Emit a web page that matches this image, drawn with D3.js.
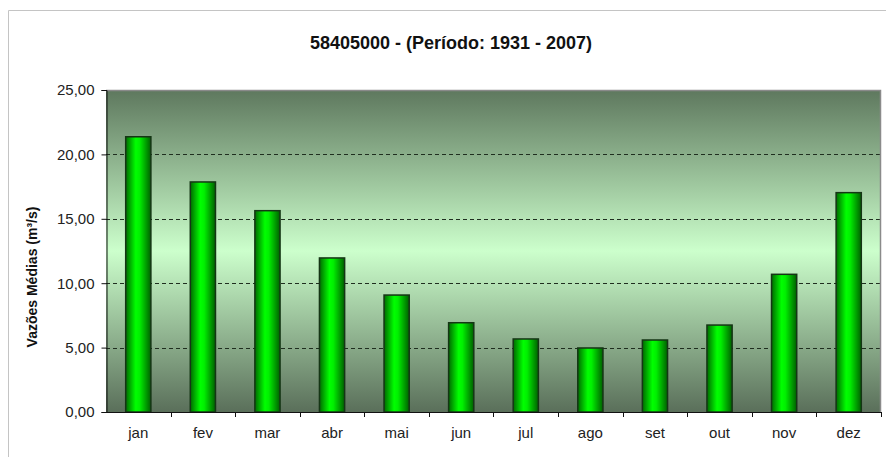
<!DOCTYPE html>
<html>
	<head>
		<meta charset="utf-8">
		<title>Vazões Médias</title>
		<style>
			body{margin:0;background:#fff;}
			text{font-family:"Liberation Sans",Arial,sans-serif;}
		</style>
	</head>
	<body>
		<script src="https://cdn.jsdelivr.net/npm/d3@7"></script>
		<script>
			//dados
			var meses = ["jan","fev","mar","abr","mai","jun","jul","ago","set","out","nov","dez"];
			var vazoes = [21.37,17.86,15.63,11.96,9.08,6.93,5.67,4.97,5.59,6.75,10.69,17.03];
			var yTicks = [0,5,10,15,20,25];
			var titulo = "58405000 - (Período: 1931 - 2007)";
			var eixoY = "Vazões Médias (m³/s)";

			var W = 886, H = 457;
			var box = {left:106,right:881,top:90,bottom:412};

			var svg = d3.select("body").append("svg")
						.attr("width",W)
						.attr("height",H)

			var defs = svg.append("defs");

			//fundo da area
			var bg = defs.append("linearGradient").attr("id","bg")
						.attr("x1",0).attr("y1",0).attr("x2",0).attr("y2",1);
			bg.append("stop").attr("offset","0%").attr("stop-color","#5e785e");
			bg.append("stop").attr("offset","50%").attr("stop-color","#ccffcc");
			bg.append("stop").attr("offset","100%").attr("stop-color","#5a6f5a");

			//barras
			var bar = defs.append("linearGradient").attr("id","bar")
						.attr("x1",0).attr("y1",0).attr("x2",1).attr("y2",0);
			bar.append("stop").attr("offset","0%").attr("stop-color","#006a00");
			bar.append("stop").attr("offset","40%").attr("stop-color","#00ff00");
			bar.append("stop").attr("offset","55%").attr("stop-color","#00f000");
			bar.append("stop").attr("offset","100%").attr("stop-color","#006000");

			//moldura externa
			svg.append("path")
				.attr("d","M8.5,"+H+"V10.5H"+W)
				.attr("fill","none")
				.attr("stroke","#c4c4c4")

			var x = d3.scaleBand()
						.domain(meses)
						.range([box.left,box.right])
						.paddingInner(0.61)
						.paddingOuter(0.305)

			var xb = d3.scaleBand()
						.domain(meses)
						.range([box.left,box.right])

			var y = d3.scaleLinear()
						.domain([0,25])
						.range([box.bottom,box.top])

			svg.append("rect")
				.attr("x",box.left)
				.attr("y",box.top)
				.attr("width",box.right-box.left)
				.attr("height",box.bottom-box.top)
				.attr("fill","url(#bg)")

			//grade
			svg.append("g")
				.selectAll("line")
				.data(yTicks.filter(function(d){return d>0 && d<25;}))
				.enter()
				.append("line")
				.attr("x1",box.left)
				.attr("x2",box.right)
				.attr("y1",function(d){return Math.round(y(d))+0.5;})
				.attr("y2",function(d){return Math.round(y(d))+0.5;})
				.attr("stroke","#1f2e1f")
				.attr("stroke-dasharray","4,3")

			//borda da area
			svg.append("path")
				.attr("d","M"+box.left+","+(box.top+0.5)+"H"+(box.right-0.5)+"V"+box.bottom)
				.attr("fill","none")
				.attr("stroke","#8a8a8a")
				.attr("stroke-width",1.5)

			svg.append("g")
				.selectAll("rect")
				.data(vazoes)
				.enter()
				.append("rect")
				.attr("x",function(d,i){return x(meses[i]);})
				.attr("y",function(d){return y(d);})
				.attr("width",x.bandwidth())
				.attr("height",function(d){return box.bottom-y(d);})
				.attr("fill","url(#bar)")
				.attr("stroke","#153515")
				.attr("stroke-width",1.5)

			//eixos
			var yAxis = d3.axisLeft(y)
						.tickValues(yTicks)
						.tickSize(5)
						.tickPadding(7)
						.tickFormat(function(d){return d3.format(".2f")(d).replace(".",",");})

			var gy = svg.append("g")
				.attr("transform","translate("+(box.left+0.5)+",0)")
				.call(yAxis)
			gy.selectAll("text").attr("font-size",15).attr("font-family","Liberation Sans, Arial").attr("fill","#222")
			gy.selectAll("line,path").attr("stroke","#111")

			var xAxis = d3.axisBottom(xb)
						.tickSize(0)
						.tickPadding(15)

			var gx = svg.append("g")
				.attr("transform","translate(0,"+(box.bottom+0.5)+")")
				.call(xAxis)
			gx.select(".domain").attr("stroke","#111").attr("d","M"+box.left+",0H"+box.right)
			gx.selectAll("text").attr("font-size",15).attr("font-family","Liberation Sans, Arial").attr("fill","#222")

			//marcas entre categorias
			svg.append("g")
				.selectAll("line")
				.data(meses)
				.enter()
				.append("line")
				.attr("x1",function(d){return Math.round(xb(d)+xb.bandwidth())+0.5;})
				.attr("x2",function(d){return Math.round(xb(d)+xb.bandwidth())+0.5;})
				.attr("y1",box.bottom)
				.attr("y2",box.bottom+5)
				.attr("stroke","#111")

			//titulos
			svg.append("text")
				.attr("x",451)
				.attr("y",49)
				.attr("text-anchor","middle")
				.attr("font-size",18)
				.attr("font-weight","bold")
				.attr("fill","#111")
				.text(titulo)

			svg.append("text")
				.attr("transform","translate(37,277) rotate(-90)")
				.attr("text-anchor","middle")
				.attr("font-size",14)
				.attr("font-weight","bold")
				.attr("fill","#111")
				.text(eixoY)
		</script>
	</body>
</html>
